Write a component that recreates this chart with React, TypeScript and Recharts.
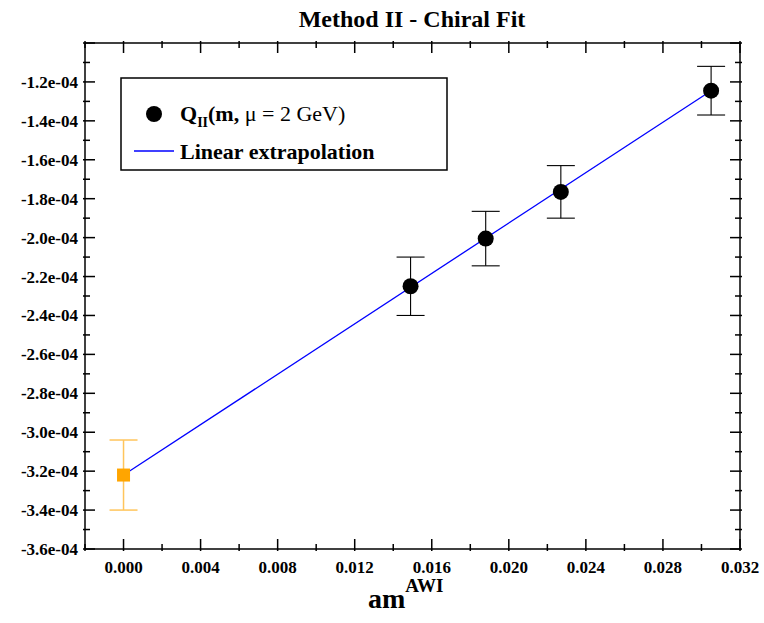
import React from 'react';
import { ComposedChart, Scatter, Line, XAxis, YAxis, ErrorBar } from 'recharts';

const xs = [0.0149, 0.0188, 0.0227, 0.0305];
const ys = [-2.25e-4, -2.005e-4, -1.765e-4, -1.245e-4];
const errs = [0.15e-4, 0.14e-4, 0.135e-4, 0.125e-4];
const extrapX = [0];
const extrapY = [-3.22e-4];
const extrapErr = [0.18e-4];
const fitX = [0, 0.0305];
const fitY = [-3.22e-4, -1.245e-4];

const xTicks = [-0.002, 0, 0.002, 0.004, 0.006, 0.008, 0.01, 0.012, 0.014, 0.016, 0.018, 0.02, 0.022, 0.024, 0.026, 0.028, 0.03, 0.032];
const yTicks = [-3.6e-4, -3.5e-4, -3.4e-4, -3.3e-4, -3.2e-4, -3.1e-4, -3.0e-4, -2.9e-4, -2.8e-4, -2.7e-4, -2.6e-4, -2.5e-4, -2.4e-4, -2.3e-4, -2.2e-4, -2.1e-4, -2.0e-4, -1.9e-4, -1.8e-4, -1.7e-4, -1.6e-4, -1.5e-4, -1.4e-4, -1.3e-4, -1.2e-4, -1.1e-4, -1.0e-4];

const pts = xs.map((x, i) => ({ x, y: ys[i], e: errs[i] }));
const ext = extrapX.map((x, i) => ({ x, y: extrapY[i], e: extrapErr[i] }));
const fit = fitX.map((x, i) => ({ x, y: fitY[i] }));

const FONT = '"Liberation Serif", "DejaVu Serif", serif';

const isMajorX = (v: number) => v >= -1e-9 && Math.abs(Math.round(v * 250) - v * 250) < 1e-6;
const isMajorY = (v: number) => Math.abs(Math.round(v * 1e5) % 2) === 0;
const fmtY = (v: number) => (v * 1e4).toFixed(1) + 'e-04';

const BottomTick = (p: any) => {
  const v = p.payload.value;
  const major = isMajorX(v);
  return (
    <g>
      <line x1={p.x} x2={p.x} y1={p.y} y2={p.y - (major ? 12 : 7)} stroke="#000" strokeWidth={1.5} />
      {major && <text x={p.x} y={p.y + 22} textAnchor="middle" fill="#000" fontFamily="Liberation Serif" fontWeight={700} fontSize="17px">{v.toFixed(3)}</text>}
    </g>
  );
};
const TopTick = (p: any) => {
  const major = isMajorX(p.payload.value);
  return <line x1={p.x} x2={p.x} y1={p.y} y2={p.y + (major ? 12 : 7)} stroke="#000" strokeWidth={1.5} />;
};
const LeftTick = (p: any) => {
  const v = p.payload.value;
  const maj = isMajorY(v);
  const label = maj && v < -1.1e-4;
  return (
    <g>
      <line x1={p.x} x2={p.x + (maj ? 12 : 7)} y1={p.y} y2={p.y} stroke="#000" strokeWidth={1.5} />
      {label && <text x={p.x - 5} y={p.y + 6} textAnchor="end" fill="#000" fontFamily="Liberation Serif" fontWeight={700} fontSize="17px">{fmtY(v)}</text>}
    </g>
  );
};
const RightTick = (p: any) => {
  const maj = isMajorY(p.payload.value);
  return <line x1={p.x} x2={p.x - (maj ? 12 : 7)} y1={p.y} y2={p.y} stroke="#000" strokeWidth={1.5} />;
};

const Circle = (p: any) => <circle cx={p.cx} cy={p.cy} r={8} fill="#000" />;
const Square = (p: any) => <rect x={p.cx - 6.5} y={p.cy - 6.5} width={13} height={13} fill="#ffa500" />;

export default function App() {
  return (
    <div style={{ position: 'absolute', left: 0, top: 0, width: 764, height: 623, background: '#fff', fontFamily: FONT }}>
      <ComposedChart width={764} height={623} margin={{ top: 13, right: 4, bottom: 44, left: 5 }}>
        <XAxis xAxisId="b" dataKey="x" type="number" domain={[-0.002, 0.032]} ticks={xTicks} interval={0}
          tick={(p: any) => <BottomTick {...p} />} tickLine={false} tickSize={0} height={30} stroke="#000" strokeWidth={1.5} allowDataOverflow />
        <XAxis xAxisId="t" orientation="top" dataKey="x" type="number" domain={[-0.002, 0.032]} ticks={xTicks} interval={0}
          tick={(p: any) => <TopTick {...p} />} tickLine={false} tickSize={0} height={30} stroke="#000" strokeWidth={1.5} allowDataOverflow />
        <YAxis yAxisId="l" type="number" domain={[-3.6e-4, -1.0e-4]} ticks={yTicks} interval={0}
          tick={(p: any) => <LeftTick {...p} />} tickLine={false} tickSize={0} width={80} stroke="#000" strokeWidth={1.5} allowDataOverflow />
        <YAxis yAxisId="r" orientation="right" type="number" domain={[-3.6e-4, -1.0e-4]} ticks={yTicks} interval={0}
          tick={(p: any) => <RightTick {...p} />} tickLine={false} tickSize={0} width={20} stroke="#000" strokeWidth={1.5} allowDataOverflow />
        <Line xAxisId="b" yAxisId="l" data={fit} dataKey="y" stroke="#0000ff" strokeWidth={1.3} dot={false} isAnimationActive={false} />
        <Scatter xAxisId="b" yAxisId="l" data={ext} dataKey="y" shape={<Square />} isAnimationActive={false}>
          <ErrorBar dataKey="e" width={14} stroke="#ffc55c" strokeWidth={1.5} direction="y" />
        </Scatter>
        <Scatter xAxisId="b" yAxisId="l" data={pts} dataKey="y" shape={<Circle />} isAnimationActive={false}>
          <ErrorBar dataKey="e" width={14} stroke="#000" strokeWidth={1.1} direction="y" />
        </Scatter>
        <text x={412} y={27} textAnchor="middle" style={{ fontFamily: FONT, fontWeight: 'bold', fontSize: 24 }}>Method II - Chiral Fit</text>
        <text x={368} y={608} style={{ fontFamily: FONT, fontWeight: 'bold', fontSize: 28 }}>am<tspan dy={-16} style={{ fontSize: 19 }}>AWI</tspan></text>
        <rect x={121} y={78} width={326} height={92} fill="#fff" stroke="#000" strokeWidth={1.5} />
        <circle cx={154} cy={114} r={8} fill="#000" />
        <text x={180} y={121} style={{ fontFamily: FONT, fontWeight: 'bold', fontSize: 22 }}>Q<tspan dy={6} style={{ fontSize: 14 }}>II</tspan><tspan dy={-6}>(m, </tspan><tspan style={{ fontWeight: 'normal' }}>μ = 2 GeV)</tspan></text>
        <line x1={134} x2={174} y1={151} y2={151} stroke="#0000ff" strokeWidth={1.3} />
        <text x={180} y={159} style={{ fontFamily: FONT, fontWeight: 'bold', fontSize: 22 }}>Linear extrapolation</text>
      </ComposedChart>
    </div>
  );
}
